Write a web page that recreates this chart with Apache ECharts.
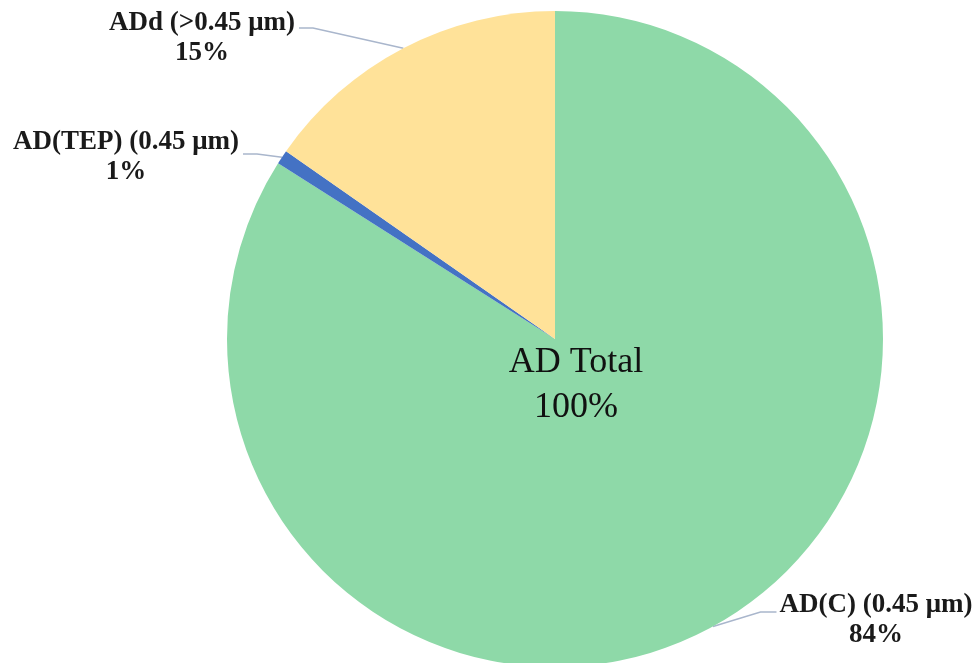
<!DOCTYPE html>
<html>
<head>
<meta charset="utf-8">
<script src="https://cdn.jsdelivr.net/npm/echarts@6/dist/echarts.min.js"></script>
<style>
html,body{margin:0;padding:0;background:#fff;}
#chart{width:977px;height:663px;}
</style>
</head>
<body>
<div id="chart"></div>
<script>
// Data
const categories = ['AD(C) (0.45 μm)', 'AD(TEP) (0.45 μm)', 'ADd (>0.45 μm)'];
const values = [84.0, 0.7, 15.3];
const colors = ['#8ED9A8', '#4472C4', '#FFE299'];
const centerTitle = 'AD Total';
const centerValue = '100%';

// Label placement (style)
const labelPos = [
  {x: 876, y: 620, side: 'left', lineY: 612},
  {x: 126, y: 157, side: 'right', lineY: 154},
  {x: 202, y: 38, side: 'right', lineY: 28}
];

const chart = echarts.init(document.getElementById('chart'));
chart.setOption({
  backgroundColor: '#ffffff',
  animation: false,
  series: [{
    type: 'pie',
    center: [555, 339],
    radius: 328,
    startAngle: 90,
    clockwise: true,
    avoidLabelOverlap: false,
    data: categories.map((c, i) => ({name: c, value: values[i], itemStyle: {color: colors[i]}})),
    itemStyle: {borderWidth: 0},
    label: {
      show: true,
      position: 'outside',
      formatter: p => p.name + '\n' + Math.round(p.percent) + '%',
      fontFamily: 'Liberation Serif',
      fontWeight: 'bold',
      fontSize: 27,
      lineHeight: 30,
      color: '#1a1a1a',
      align: 'center'
    },
    labelLine: {
      show: true,
      lineStyle: {color: '#A9B6CC', width: 1.5}
    },
    labelLayout: function (params) {
      const i = params.dataIndex;
      const pos = labelPos[i];
      const w = params.labelRect.width;
      const anchor = params.labelLinePoints ? params.labelLinePoints[0] : [pos.x, pos.y];
      let edgeX, elbowX;
      if (pos.side === 'right') {
        edgeX = pos.x + w / 2 + 4;
        elbowX = edgeX + 14;
      } else {
        edgeX = pos.x - w / 2 - 3;
        elbowX = edgeX - 16;
      }
      return {
        x: pos.x,
        y: pos.y,
        align: 'center',
        verticalAlign: 'middle',
        labelLinePoints: [anchor, [elbowX, pos.lineY], [edgeX, pos.lineY]]
      };
    }
  }],
  graphic: {
    elements: [{
      type: 'text',
      z: 100,
      zlevel: 0,
      x: 576,
      y: 385,
      style: {
        text: centerTitle + '\n' + centerValue,
        font: '36px "Liberation Serif"',
        lineHeight: 45,
        fill: '#111',
        align: 'center',
        verticalAlign: 'middle'
      }
    }]
  }
});
</script>
</body>
</html>
